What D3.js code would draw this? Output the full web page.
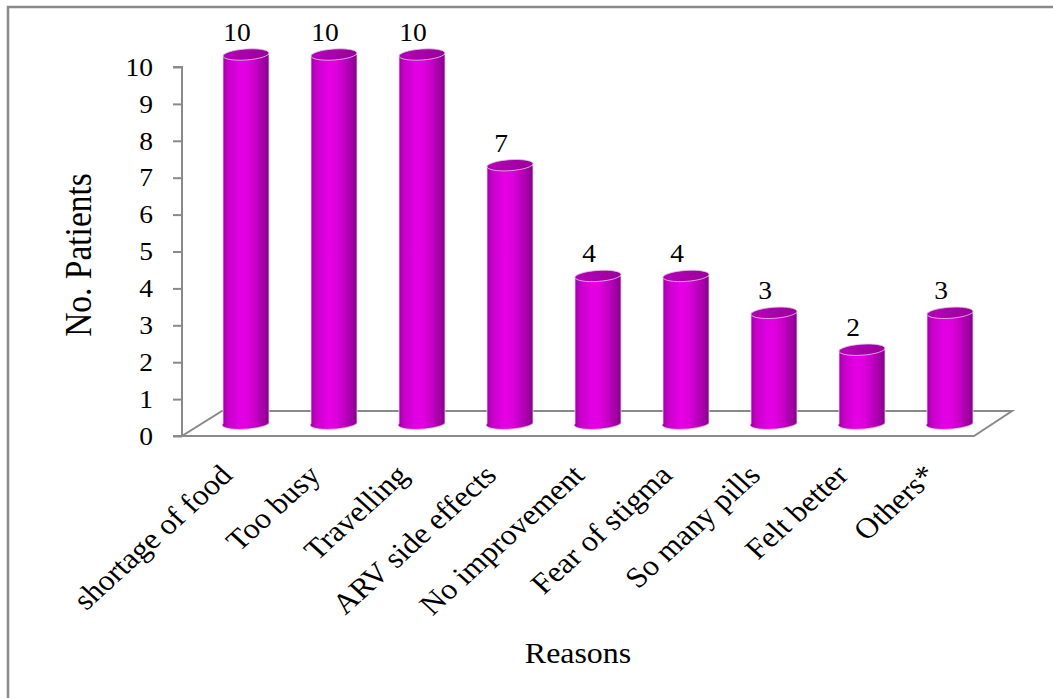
<!DOCTYPE html>
<html><head><meta charset="utf-8">
<script src="https://cdn.jsdelivr.net/npm/d3@7"></script>
<style>html,body{margin:0;padding:0;background:#fff;}svg{display:block;}</style>
</head><body>
<svg id="chart" width="1053" height="698"></svg>
<script>
const categories = ["shortage of food","Too busy","Travelling","ARV side effects","No improvement","Fear of stigma","So many pills","Felt better","Others*"];
const values = [10,10,10,7,4,4,3,2,3];
const yTicks = [0,1,2,3,4,5,6,7,8,9,10];
const yTitle = "No. Patients";
const xTitle = "Reasons";

const svg = d3.select("#chart");
const font = "'Liberation Serif','Times New Roman',serif";
const SX = 1.1; // horizontal stretch of text

svg.append("rect").attr("x",8).attr("y",7).attr("width",1200).attr("height",900)
  .attr("fill","none").attr("stroke","#8a8a8a").attr("stroke-width",2.5);

const x = d3.scaleBand().domain(categories).range([182,974]).padding(0);
const y = d3.scaleLinear().domain([0,10]).range([436,67]);
const DX = 40, DY = -25;

// floor
const x0 = x.range()[0], x1 = x.range()[1], y0 = y(0);
svg.append("path")
  .attr("d", `M${x0},${y0}L${x1},${y0}L${x1+DX-2},${y0+DY}L${x0+DX},${y0+DY}Z`)
  .attr("fill","#fff").attr("stroke","#8a8a8a").attr("stroke-width",2);

// y axis
const ax = svg.append("g").attr("transform",`translate(${x0},0)`)
  .call(d3.axisLeft(y).tickValues(yTicks).tickSize(9).tickPadding(0).tickFormat(d3.format("d")));
ax.select(".domain").attr("stroke","#8a8a8a").attr("stroke-width",2).attr("d",`M-9,${y(10)}H0V${y(0)}H-9`);
ax.selectAll(".tick line").attr("stroke","#8a8a8a").attr("stroke-width",2);
ax.selectAll(".tick text").remove();
ax.selectAll(".tick").append("text")
  .attr("transform",`translate(-29,0) scale(${SX},1)`)
  .attr("dy","0.33em").attr("text-anchor","end")
  .attr("font-family",font).attr("font-size",25).attr("fill","#000")
  .text(d=>d);

// gradients
const defs = svg.append("defs");
const g = defs.append("linearGradient").attr("id","cyl").attr("x1","0").attr("x2","1").attr("y1","0").attr("y2","0");
[[0,"#9a009e"],[0.12,"#c400c8"],[0.38,"#e400e4"],[0.55,"#de00de"],[0.8,"#b400b6"],[1,"#86008a"]]
  .forEach(([o,c])=>g.append("stop").attr("offset",o).attr("stop-color",c));
const gt = defs.append("linearGradient").attr("id","cyltop").attr("x1","0").attr("x2","1").attr("y1","0").attr("y2","0");
[[0,"#b400b8"],[0.5,"#a800aa"],[1,"#980098"]]
  .forEach(([o,c])=>gt.append("stop").attr("offset",o).attr("stop-color",c));

const R = 23, RY = 5.5, ROT = -4;
const bars = svg.append("g");
categories.forEach((c,i)=>{
  const cx = x(c) + x.bandwidth()/2 + DX/2;
  const yb = y(0) + DY/2;
  const yt = y(values[i]) + DY/2;
  const grp = bars.append("g");
  grp.append("path")
    .attr("d",`M${cx-R},${yt}L${cx-R},${yb}A${R},${RY} ${ROT} 0 0 ${cx+R},${yb}L${cx+R},${yt}Z`)
    .attr("fill","url(#cyl)").attr("stroke","#e9d6ea").attr("stroke-width",0.8);
  grp.append("ellipse").attr("cx",cx).attr("cy",yt).attr("rx",R).attr("ry",RY)
    .attr("transform",`rotate(${ROT},${cx},${yt})`)
    .attr("fill","url(#cyltop)").attr("stroke","#e2c8e3").attr("stroke-width",0.8);
  svg.append("text")
    .attr("transform",`translate(${cx-9},${yt-RY-8}) scale(${SX},1)`)
    .attr("text-anchor","middle").attr("font-family",font).attr("font-size",25).attr("fill","#000")
    .text(values[i]);
  svg.append("text")
    .attr("transform",`translate(${x(c)+x.bandwidth()/2+8},477) scale(${SX},1) rotate(-45)`)
    .attr("text-anchor","end").attr("font-family",font).attr("font-size",29).attr("fill","#000")
    .text(c);
});

// titles
svg.append("text")
  .attr("transform",`translate(91,255) scale(${SX},1) rotate(-90)`)
  .attr("text-anchor","middle").attr("font-family",font).attr("font-size",33.5).attr("fill","#000")
  .text(yTitle);
svg.append("text")
  .attr("transform",`translate(578,663) scale(${SX},1)`)
  .attr("text-anchor","middle").attr("font-family",font).attr("font-size",29).attr("fill","#000")
  .text(xTitle);
</script>
</body></html>
